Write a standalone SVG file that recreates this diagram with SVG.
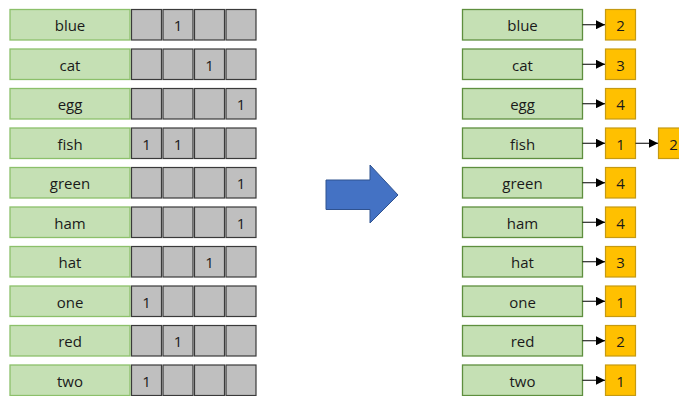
<svg xmlns="http://www.w3.org/2000/svg" width="679" height="396" viewBox="0 0 679 396">
  <style>
    .word { fill: #C5E0B4; stroke: #8CC06A; stroke-width: 1.3; }
    .word2 { fill: #C5E0B4; stroke: #5E8F3E; stroke-width: 1.3; }
    .cell { fill: #BFBFBF; stroke: #3A3A3A; stroke-width: 1.2; }
    .cnt { fill: #FFC000; stroke: #C59A12; stroke-width: 1.2; }
    text { font-family: "Open Sans", "Liberation Sans", sans-serif; font-size: 15px; fill: #1a1a1a; text-anchor: middle; dominant-baseline: central; }
    .link { stroke: #000; stroke-width: 1; fill: none; marker-end: url(#head); }
  </style>
  <defs>
    <marker id="head" viewBox="0 0 10 10" refX="10" refY="5" markerWidth="9" markerHeight="9" markerUnits="userSpaceOnUse" orient="auto">
      <path d="M0,0 L10,5 L0,10 Z" fill="#000"/>
    </marker>
  </defs>

  <!-- Left: word rows with bit cells -->
  <g id="l-blue"><rect class="word" x="10" y="9.5" width="120" height="30.5"/><text x="70" y="25">blue</text>
    <rect class="cell" x="131.5" y="9.5" width="30" height="30.5"/><rect class="cell" x="163" y="9.5" width="30" height="30.5"/><rect class="cell" x="194.5" y="9.5" width="30" height="30.5"/><rect class="cell" x="226" y="9.5" width="30" height="30.5"/>
    <text x="178" y="25">1</text></g>
  <g id="l-cat"><rect class="word" x="10" y="49" width="120" height="30.5"/><text x="70" y="64.5">cat</text>
    <rect class="cell" x="131.5" y="49" width="30" height="30.5"/><rect class="cell" x="163" y="49" width="30" height="30.5"/><rect class="cell" x="194.5" y="49" width="30" height="30.5"/><rect class="cell" x="226" y="49" width="30" height="30.5"/>
    <text x="209.5" y="64.5">1</text></g>
  <g id="l-egg"><rect class="word" x="10" y="88.5" width="120" height="30.5"/><text x="70" y="104">egg</text>
    <rect class="cell" x="131.5" y="88.5" width="30" height="30.5"/><rect class="cell" x="163" y="88.5" width="30" height="30.5"/><rect class="cell" x="194.5" y="88.5" width="30" height="30.5"/><rect class="cell" x="226" y="88.5" width="30" height="30.5"/>
    <text x="241" y="104">1</text></g>
  <g id="l-fish"><rect class="word" x="10" y="128" width="120" height="30.5"/><text x="70" y="143.5">fish</text>
    <rect class="cell" x="131.5" y="128" width="30" height="30.5"/><rect class="cell" x="163" y="128" width="30" height="30.5"/><rect class="cell" x="194.5" y="128" width="30" height="30.5"/><rect class="cell" x="226" y="128" width="30" height="30.5"/>
    <text x="146.5" y="143.5">1</text><text x="178" y="143.5">1</text></g>
  <g id="l-green"><rect class="word" x="10" y="167.5" width="120" height="30.5"/><text x="70" y="183">green</text>
    <rect class="cell" x="131.5" y="167.5" width="30" height="30.5"/><rect class="cell" x="163" y="167.5" width="30" height="30.5"/><rect class="cell" x="194.5" y="167.5" width="30" height="30.5"/><rect class="cell" x="226" y="167.5" width="30" height="30.5"/>
    <text x="241" y="183">1</text></g>
  <g id="l-ham"><rect class="word" x="10" y="207" width="120" height="30.5"/><text x="70" y="222.5">ham</text>
    <rect class="cell" x="131.5" y="207" width="30" height="30.5"/><rect class="cell" x="163" y="207" width="30" height="30.5"/><rect class="cell" x="194.5" y="207" width="30" height="30.5"/><rect class="cell" x="226" y="207" width="30" height="30.5"/>
    <text x="241" y="222.5">1</text></g>
  <g id="l-hat"><rect class="word" x="10" y="246.5" width="120" height="30.5"/><text x="70" y="262">hat</text>
    <rect class="cell" x="131.5" y="246.5" width="30" height="30.5"/><rect class="cell" x="163" y="246.5" width="30" height="30.5"/><rect class="cell" x="194.5" y="246.5" width="30" height="30.5"/><rect class="cell" x="226" y="246.5" width="30" height="30.5"/>
    <text x="209.5" y="262">1</text></g>
  <g id="l-one"><rect class="word" x="10" y="286" width="120" height="30.5"/><text x="70" y="301.5">one</text>
    <rect class="cell" x="131.5" y="286" width="30" height="30.5"/><rect class="cell" x="163" y="286" width="30" height="30.5"/><rect class="cell" x="194.5" y="286" width="30" height="30.5"/><rect class="cell" x="226" y="286" width="30" height="30.5"/>
    <text x="146.5" y="301.5">1</text></g>
  <g id="l-red"><rect class="word" x="10" y="325.5" width="120" height="30.5"/><text x="70" y="341">red</text>
    <rect class="cell" x="131.5" y="325.5" width="30" height="30.5"/><rect class="cell" x="163" y="325.5" width="30" height="30.5"/><rect class="cell" x="194.5" y="325.5" width="30" height="30.5"/><rect class="cell" x="226" y="325.5" width="30" height="30.5"/>
    <text x="178" y="341">1</text></g>
  <g id="l-two"><rect class="word" x="10" y="365" width="120" height="30.5"/><text x="70" y="380.5">two</text>
    <rect class="cell" x="131.5" y="365" width="30" height="30.5"/><rect class="cell" x="163" y="365" width="30" height="30.5"/><rect class="cell" x="194.5" y="365" width="30" height="30.5"/><rect class="cell" x="226" y="365" width="30" height="30.5"/>
    <text x="146.5" y="380.5">1</text></g>

  <!-- Transform arrow -->
  <g id="transform">
    <path d="M326,180 L370,180 L370,165 L398,195 L370,223 L370,209.5 L326,209.5 Z" fill="#4472C4" stroke="#2F528F" stroke-width="1"/>
  </g>

  <!-- Right: words -->
  <g id="r-blue"><rect class="word2" x="462.5" y="9.5" width="120" height="30.5"/><text x="522.5" y="25">blue</text></g>
  <g id="r-cat"><rect class="word2" x="462.5" y="49" width="120" height="30.5"/><text x="522.5" y="64.5">cat</text></g>
  <g id="r-egg"><rect class="word2" x="462.5" y="88.5" width="120" height="30.5"/><text x="522.5" y="104">egg</text></g>
  <g id="r-fish"><rect class="word2" x="462.5" y="128" width="120" height="30.5"/><text x="522.5" y="143.5">fish</text></g>
  <g id="r-green"><rect class="word2" x="462.5" y="167.5" width="120" height="30.5"/><text x="522.5" y="183">green</text></g>
  <g id="r-ham"><rect class="word2" x="462.5" y="207" width="120" height="30.5"/><text x="522.5" y="222.5">ham</text></g>
  <g id="r-hat"><rect class="word2" x="462.5" y="246.5" width="120" height="30.5"/><text x="522.5" y="262">hat</text></g>
  <g id="r-one"><rect class="word2" x="462.5" y="286" width="120" height="30.5"/><text x="522.5" y="301.5">one</text></g>
  <g id="r-red"><rect class="word2" x="462.5" y="325.5" width="120" height="30.5"/><text x="522.5" y="341">red</text></g>
  <g id="r-two"><rect class="word2" x="462.5" y="365" width="120" height="30.5"/><text x="522.5" y="380.5">two</text></g>

  <!-- Right: posting list entries -->
  <g id="p-blue"><rect class="cnt" x="605.5" y="9.5" width="30" height="30.5"/><text x="620.5" y="25">2</text></g>
  <g id="p-cat"><rect class="cnt" x="605.5" y="49" width="30" height="30.5"/><text x="620.5" y="64.5">3</text></g>
  <g id="p-egg"><rect class="cnt" x="605.5" y="88.5" width="30" height="30.5"/><text x="620.5" y="104">4</text></g>
  <g id="p-fish"><rect class="cnt" x="605.5" y="128" width="30" height="30.5"/><text x="620.5" y="143.5">1</text></g>
  <g id="p-fish2"><rect class="cnt" x="658.5" y="128" width="30" height="30.5"/><text x="673.5" y="143.5">2</text></g>
  <g id="p-green"><rect class="cnt" x="605.5" y="167.5" width="30" height="30.5"/><text x="620.5" y="183">4</text></g>
  <g id="p-ham"><rect class="cnt" x="605.5" y="207" width="30" height="30.5"/><text x="620.5" y="222.5">4</text></g>
  <g id="p-hat"><rect class="cnt" x="605.5" y="246.5" width="30" height="30.5"/><text x="620.5" y="262">3</text></g>
  <g id="p-one"><rect class="cnt" x="605.5" y="286" width="30" height="30.5"/><text x="620.5" y="301.5">1</text></g>
  <g id="p-red"><rect class="cnt" x="605.5" y="325.5" width="30" height="30.5"/><text x="620.5" y="341">2</text></g>
  <g id="p-two"><rect class="cnt" x="605.5" y="365" width="30" height="30.5"/><text x="620.5" y="380.5">1</text></g>

  <!-- Connectors -->
  <g id="connectors">
    <line class="link" x1="582.5" y1="24.75" x2="605" y2="24.75"/>
    <line class="link" x1="582.5" y1="64.25" x2="605" y2="64.25"/>
    <line class="link" x1="582.5" y1="103.75" x2="605" y2="103.75"/>
    <line class="link" x1="582.5" y1="143.25" x2="605" y2="143.25"/>
    <line class="link" x1="635.5" y1="143.25" x2="658" y2="143.25"/>
    <line class="link" x1="582.5" y1="182.75" x2="605" y2="182.75"/>
    <line class="link" x1="582.5" y1="222.25" x2="605" y2="222.25"/>
    <line class="link" x1="582.5" y1="261.75" x2="605" y2="261.75"/>
    <line class="link" x1="582.5" y1="301.25" x2="605" y2="301.25"/>
    <line class="link" x1="582.5" y1="340.75" x2="605" y2="340.75"/>
    <line class="link" x1="582.5" y1="380.25" x2="605" y2="380.25"/>
  </g>
</svg>
